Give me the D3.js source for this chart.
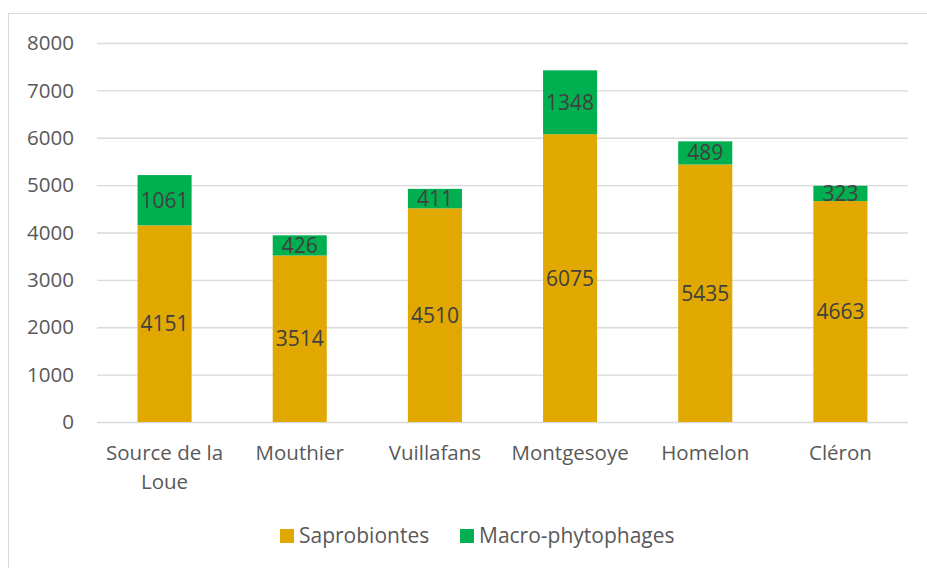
<!DOCTYPE html>
<html>
<head>
<meta charset="utf-8">
<script src="https://cdn.jsdelivr.net/npm/d3@7"></script>
<style>
  body { margin: 0; background: #fff; }
  svg { font-family: "Open Sans", sans-serif; }
</style>
</head>
<body>
<svg id="chart" width="927" height="568"></svg>
<script>
const sites = ["Source de la Loue", "Mouthier", "Vuillafans", "Montgesoye", "Homelon", "Cléron"];
const saprobiontes = [4151, 3514, 4510, 6075, 5435, 4663];
const macroPhytophages = [1061, 426, 411, 1348, 489, 323];
const yTicks = [0, 1000, 2000, 3000, 4000, 5000, 6000, 7000, 8000];
const seriesNames = ["Saprobiontes", "Macro-phytophages"];
const colors = ["#e0a800", "#00b050"];

const svg = d3.select("#chart");

// frame
svg.append("rect")
  .attr("x", 8.5).attr("y", 13.5)
  .attr("width", 940).attr("height", 600)
  .attr("fill", "none").attr("stroke", "#d9d9d9");

const plotLeft = 97, plotRight = 908, plotTop = 43, plotBottom = 422;

const x = d3.scaleBand().domain(sites).range([plotLeft, plotRight]).paddingInner(0.6).paddingOuter(0.3);
const y = d3.scaleLinear().domain([0, 8000]).range([plotBottom, plotTop]);

// gridlines
svg.append("g")
  .selectAll("line")
  .data(yTicks)
  .join("line")
  .attr("x1", plotLeft).attr("x2", plotRight)
  .attr("y1", d => y(d) + 0.5).attr("y2", d => y(d) + 0.5)
  .attr("stroke", "#d9d9d9").attr("stroke-width", 1.3);

// y labels
svg.append("g")
  .selectAll("text")
  .data(yTicks)
  .join("text")
  .attr("x", 74).attr("y", d => y(d))
  .attr("dy", "0.35em")
  .attr("text-anchor", "end")
  .attr("font-size", 20.5)
  .attr("fill", "#595959")
  .text(d => d);

const stacked = d3.stack().keys([0, 1])(sites.map((s, i) => ({ site: s, 0: saprobiontes[i], 1: macroPhytophages[i] })));

const g = svg.append("g");
stacked.forEach((layer, k) => {
  g.selectAll(null)
    .data(layer)
    .join("rect")
    .attr("x", d => x(d.data.site))
    .attr("width", x.bandwidth())
    .attr("y", d => y(d[1]))
    .attr("height", d => y(d[0]) - y(d[1]))
    .attr("fill", colors[k]);
  g.selectAll(null)
    .data(layer)
    .join("text")
    .attr("x", d => x(d.data.site) + x.bandwidth() / 2)
    .attr("y", d => y((d[0] + d[1]) / 2))
    .attr("dy", "0.36em")
    .attr("text-anchor", "middle")
    .attr("font-size", 21)
    .attr("fill", "#404040")
    .text(d => d[1] - d[0]);
});

// x axis labels
const xl = svg.append("g");
sites.forEach(s => {
  const cx = x(s) + x.bandwidth() / 2;
  const lines = s === "Source de la Loue" ? ["Source de la", "Loue"] : [s];
  lines.forEach((t, j) => {
    xl.append("text")
      .attr("x", cx).attr("y", 460 + j * 29)
      .attr("text-anchor", "middle")
      .attr("font-size", 20.5)
      .attr("fill", "#595959")
      .text(t);
  });
});

// legend
const legendX = [280, 460];
seriesNames.forEach((n, i) => {
  svg.append("rect")
    .attr("x", legendX[i]).attr("y", 529)
    .attr("width", 14).attr("height", 14)
    .attr("fill", colors[i]);
  svg.append("text")
    .attr("x", legendX[i] + 19).attr("y", 536)
    .attr("dy", "0.35em")
    .attr("font-size", 21)
    .attr("fill", "#595959")
    .text(n);
});
</script>
</body>
</html>
